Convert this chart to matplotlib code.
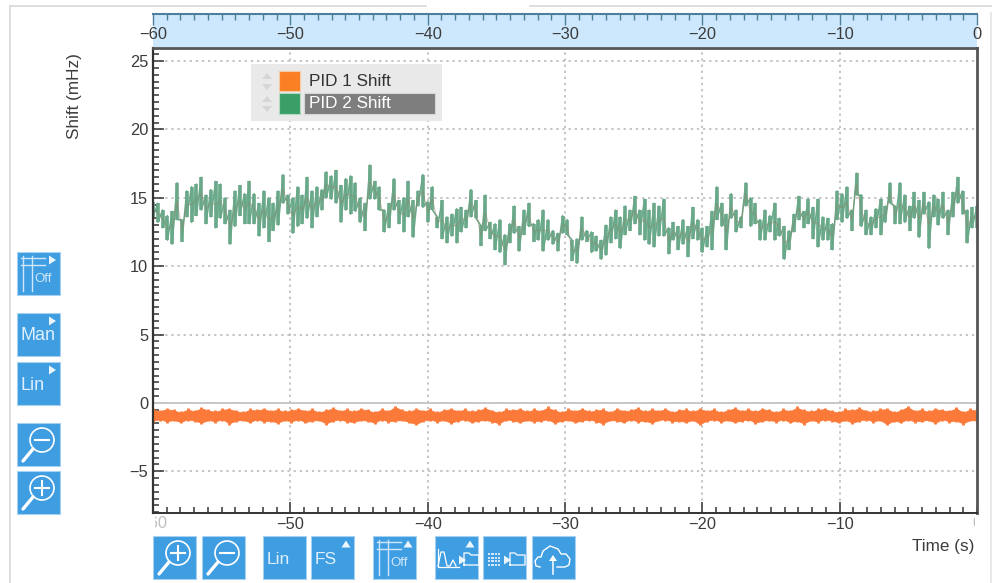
import numpy as np
import matplotlib
matplotlib.use("Agg")
import matplotlib.pyplot as plt
from matplotlib.patches import Rectangle, Circle, Polygon
from matplotlib.ticker import MultipleLocator

plt.rcParams['font.family'] = ['Liberation Sans', 'DejaVu Sans']

# ---------------- DATA ----------------
# upper / lower edge of the green trace
pid2_hi = [14.7,14.6,14.1,13.7,14.0,16.1,13.4,15.5,15.8,16.0,16.5,15.2,15.6,16.2,16.0,15.0,14.1,15.5,15.9,15.3,16.2,15.3,14.6,15.5,15.0,14.6,15.5,16.7,15.2,15.0,15.8,15.2,16.5,15.5,15.8,15.6,16.9,16.6,17.0,15.9,16.4,16.6,16.1,
           15.0,14.6,17.4,16.2,15.8,14.1,14.6,16.4,14.8,15.0,16.2,14.8,15.5,16.7,14.7,15.8,13.6,14.8,13.6,13.8,14.2,14.3,14.1,15.6,14.8,13.0,15.2,13.2,13.1,13.4,12.3,13.1,14.4,12.9,14.1,14.6,13.1,13.4,14.1,13.4,12.6,12.4,13.7,
           13.4,11.9,12.0,13.6,12.6,12.5,12.2,11.9,13.0,13.6,14.1,13.6,14.4,14.1,15.1,14.1,14.9,14.1,14.6,14.4,14.9,12.8,13.2,12.9,13.4,12.9,14.3,13.4,12.8,12.9,14.0,15.8,14.6,13.8,15.3,14.1,13.6,16.1,15.0,14.6,13.4,14.1,13.7,
           14.6,13.5,12.9,12.6,13.8,15.1,14.0,14.9,14.3,14.9,13.6,13.5,13.1,15.5,15.3,15.8,14.1,16.8,15.2,14.1,13.6,14.2,14.9,14.4,16.1,14.4,16.1,15.2,14.4,15.4,14.8,15.4,14.7,15.2,14.9,15.4,14.1,15.4,16.5,15.5,14.1,14.3,14.4]
pid2_lo = [13.6,13.2,12.8,11.9,11.6,13.4,11.8,13.6,13.2,13.7,14.1,13.1,13.6,12.8,13.5,13.1,11.6,12.9,13.7,13.1,13.1,13.1,12.2,12.8,11.8,12.6,13.0,14.6,13.8,12.4,12.9,13.1,13.5,12.8,13.6,14.1,15.0,14.9,14.6,13.2,14.1,13.8,14.0,
           13.2,12.6,14.9,14.9,14.1,12.5,12.8,14.1,13.1,12.5,13.6,12.1,14.4,14.3,13.2,14.1,12.8,12.0,11.7,12.2,11.7,12.5,12.8,13.6,13.5,11.5,12.6,12.0,11.2,11.0,10.1,11.7,12.4,11.1,12.3,12.9,11.8,11.9,11.1,11.9,11.6,11.1,12.4,
           12.3,10.4,10.2,11.9,11.8,11.0,11.1,10.5,10.8,11.7,12.0,11.3,12.3,12.6,13.1,12.3,11.9,11.6,11.4,12.2,12.2,10.9,11.9,11.2,11.6,10.7,12.0,11.9,11.0,11.4,11.2,13.4,12.9,11.2,13.5,12.5,12.8,14.4,12.9,13.1,11.9,11.9,12.5,
           11.9,12.2,10.5,11.2,12.5,13.4,12.8,13.1,12.0,11.4,11.9,11.9,11.2,13.4,13.2,13.5,12.6,15.2,12.9,12.3,12.3,12.8,12.3,13.2,14.6,13.1,13.1,13.2,12.6,13.5,12.1,13.8,11.3,13.6,13.0,13.5,12.3,13.6,14.6,13.8,11.7,12.8,12.8]

# same thing for the orange band
pid1_hi = [-0.4,-0.5,-0.35,-0.45,-0.6,-0.4,-0.5,-0.3,-0.45,-0.55,-0.4,-0.35,-0.5,-0.6,-0.4,-0.45,-0.35,-0.5,-0.4,-0.55,
           -0.45,-0.35,-0.5,-0.4,-0.6,-0.45,-0.3,-0.5,-0.4,-0.55,-0.35,-0.45,-0.6,-0.4,-0.5,-0.2,-0.45,-0.55,-0.35,-0.5,
           -0.4,-0.6,-0.45,-0.35,-0.5,-0.4,-0.55,-0.45,-0.3,-0.5,-0.6,-0.4,-0.45,-0.35,-0.55,-0.4,-0.5,-0.25,-0.45,-0.6,
           -0.4,-0.5,-0.35,-0.55,-0.45,-0.4,-0.6,-0.35,-0.5,-0.45,-0.3,-0.55,-0.4,-0.5,-0.35,-0.6,-0.45,-0.4,-0.55,-0.35,
           -0.5,-0.4,-0.6,-0.45,-0.3,-0.5,-0.4,-0.55,-0.35,-0.45,-0.6,-0.4,-0.5,-0.25,-0.45,-0.55,-0.4,-0.35,-0.5,-0.6,
           -0.4,-0.45,-0.3,-0.5,-0.55,-0.4,-0.35,-0.6,-0.45,-0.2,-0.5,-0.4,-0.55,-0.35,-0.45,-0.5,-0.3,-0.6,-0.4,-0.45]
pid1_lo = [-1.4,-1.3,-1.45,-1.35,-1.5,-1.3,-1.4,-1.55,-1.35,-1.45,-1.3,-1.6,-1.4,-1.35,-1.5,-1.3,-1.45,-1.4,-1.55,-1.35,
           -1.45,-1.3,-1.5,-1.4,-1.35,-1.6,-1.4,-1.3,-1.45,-1.5,-1.35,-1.4,-1.55,-1.3,-1.45,-1.4,-1.35,-1.5,-1.65,-1.4,
           -1.3,-1.45,-1.35,-1.55,-1.4,-1.3,-1.5,-1.4,-1.35,-1.45,-1.6,-1.3,-1.4,-1.5,-1.35,-1.45,-1.4,-1.3,-1.55,-1.4,
           -1.35,-1.5,-1.4,-1.3,-1.45,-1.6,-1.35,-1.4,-1.5,-1.3,-1.45,-1.4,-1.55,-1.35,-1.3,-1.45,-1.4,-1.5,-1.35,-1.65,
           -1.4,-1.3,-1.45,-1.35,-1.5,-1.4,-1.3,-1.55,-1.4,-1.35,-1.45,-1.3,-1.5,-1.4,-1.6,-1.35,-1.45,-1.3,-1.4,-1.5,
           -1.35,-1.55,-1.4,-1.3,-1.45,-1.35,-1.65,-1.4,-1.5,-1.3,-1.45,-1.4,-1.35,-1.55,-1.3,-1.45,-1.4,-1.6,-1.35,-1.4]

x_ticks = [-60, -50, -40, -30, -20, -10, 0]
y_ticks = [-5, 0, 5, 10, 15, 20, 25]
legend_names = ["PID 1 Shift", "PID 2 Shift"]

ORANGE = '#fb8024'
GREEN = '#3a9e66'
BTN = '#3f9de2'
TXT = '#3c3c3c'
W, H = 992, 583
FS = 11.8


def minus(v):
    return str(v).replace('-', '\u2212')


def px_axes(x0, y0, x1, y1):
    return [x0/W, 1-y1/H, (x1-x0)/W, (y1-y0)/H]


fig = plt.figure(figsize=(W/100, H/100), dpi=100)

# ---------------- main plot ----------------
ax = fig.add_axes(px_axes(153, 48, 977, 513))
ax.set_xlim(-60, 0)
ax.set_ylim(-8.05, 25.95)
ax.set_xticks(x_ticks[1:-1])
ax.set_xticklabels([minus(v) for v in x_ticks[1:-1]])
ax.set_yticks(y_ticks)
ax.set_yticklabels([minus(v) for v in y_ticks])
ax.xaxis.set_minor_locator(MultipleLocator(1))
ax.yaxis.set_minor_locator(MultipleLocator(0.5))
ax.tick_params(which='major', direction='in', length=8, width=1.1, color='#333333',
               labelsize=FS, labelcolor=TXT)
ax.tick_params(axis='y', which='major', pad=3.5)
ax.tick_params(axis='x', which='major', pad=3)
ax.tick_params(which='minor', direction='in', length=4, width=1.1, color='#333333')
ax.grid(True, which='major', color='#b4b4b4', ls=(0, (1.5, 2.5)), lw=1.1)
ax.axhline(0, color='#c8c8c8', lw=1.4, zorder=1.5)
ax.set_axisbelow(True)
for side, col, lw in [('left', '#333333', 1.6), ('bottom', '#333333', 1.4),
                      ('right', '#555555', 2), ('top', '#555555', 2)]:
    ax.spines[side].set_color(col)
    ax.spines[side].set_linewidth(lw)

# orange band, solid core and one spike per reading
to = np.linspace(-60, 0, len(pid1_hi))
ax.fill_between(to, np.array(pid1_hi)-0.1, np.array(pid1_lo)+0.1, color='#fb7a3a', lw=0.5)
ax.vlines(to, pid1_lo, pid1_hi, color='#fb7a3a', lw=2)

# green trace, column per reading with the zigzag joining them
tg = np.linspace(-60, 0, len(pid2_hi))
ax.vlines(tg, pid2_lo, pid2_hi, color='#69a98a', lw=2.6)
zx = np.column_stack((tg, tg)).ravel()
zy = np.column_stack((pid2_hi, pid2_lo)).ravel()
ax.plot(zx, zy, color='#69a98a', lw=1.1)
ax.plot(tg, (np.array(pid2_hi)+np.array(pid2_lo))/2, color='#8f8468', lw=0.7, alpha=0.55)

# ---------------- top strip ----------------
strip = fig.add_axes(px_axes(153, 14, 977, 47))
strip.set_facecolor('#cde8fc')
strip.set_xlim(-60, 0)
strip.set_yticks([])
strip.set_xticks(x_ticks)
strip.xaxis.set_minor_locator(MultipleLocator(1))
strip.tick_params(axis='x', which='major', direction='in', top=True, bottom=False,
                  labelbottom=False, length=8, width=1, color='#4d7f9c')
strip.tick_params(axis='x', which='minor', direction='in', top=True, bottom=False,
                  length=4, width=1, color='#4d7f9c')
for side in ['left', 'right', 'bottom']:
    strip.spines[side].set_visible(False)
strip.spines['top'].set_color('#4d7f9c')
strip.spines['top'].set_linewidth(1.5)
for v in x_ticks:
    strip.text(v, 0.38, minus(v), transform=strip.get_xaxis_transform(), ha='center',
               va='center', fontsize=FS, color=TXT, clip_on=False)

# ---------------- page overlay in pixels ----------------
ov = fig.add_axes([0, 0, 1, 1], zorder=5)
ov.set_xlim(0, W)
ov.set_ylim(H, 0)
ov.axis('off')
ov.patch.set_alpha(0)

# widget border
ov.plot([10, 10], [6, H], color='#d8d8d8', lw=1.2)
ov.plot([10, 426], [6, 6], color='#d8d8d8', lw=1.2)
ov.plot([530, 992], [6, 6], color='#d8d8d8', lw=1.2)
ov.plot([991, 991], [13, H], color='#e4e4e4', lw=1.2)

ov.text(75, 96, "Shift (mHz)", rotation=90, ha='center', va='center', fontsize=FS+0.5, color=TXT)
ov.text(974, 547, "Time (s)", ha='right', va='center', fontsize=FS+0.5, color=TXT)

# half hidden labels at both ends of the lower axis
clip = Rectangle((155, 510), 820, 50, transform=ov.transData)
for xpos, s in [(153, minus(x_ticks[0])), (977, minus(x_ticks[-1]))]:
    t = ov.text(xpos, 523, s, ha='center', va='center', fontsize=FS, color='#c0c0c0')
    t.set_clip_on(True)
    t.set_clip_path(clip)

# legend
ov.add_patch(Rectangle((251, 64), 191, 57, fc='#e9e9e9', ec='none'))
ov.add_patch(Rectangle((279, 71), 21, 20, fc=ORANGE, ec='#f4c9a5', lw=0.8))
ov.add_patch(Rectangle((279, 93), 21, 21, fc=GREEN, ec='#b5d8c3', lw=0.8))
ov.add_patch(Rectangle((304, 93), 131, 21, fc='#7e7e7e', ec='#d5d5d5', lw=0.8))
ov.text(309, 81, legend_names[0], va='center', fontsize=FS+0.5, color='#333333')
ov.text(309, 103, legend_names[1], va='center', fontsize=FS+0.5, color='white')
for yc in [76, 87, 99, 109]:
    d = -1 if yc in (76, 99) else 1
    ov.add_patch(Polygon([(262, yc-d*3), (272, yc-d*3), (267, yc+d*3)], fc='#d6d6d6', ec='none'))


def button(x0, y0, w=43, h=43):
    ov.add_patch(Rectangle((x0, y0), w, h, fc=BTN, ec='#a5d2f2', lw=0.8))


def tri(x, y, up=False):
    if up:
        pts = [(x-4.5, y+3.5), (x+4.5, y+3.5), (x, y-3.5)]
    else:
        pts = [(x-3, y-4.5), (x-3, y+4.5), (x+4, y)]
    ov.add_patch(Polygon(pts, fc='white', ec='none', alpha=0.9))


def lens(x0, y0, plus):
    ov.add_patch(Circle((x0+25, y0+17), 12, fc='none', ec='white', lw=1.2))
    ov.plot([x0+6, x0+16], [y0+38, y0+26], color='white', lw=2.4, solid_capstyle='round')
    ov.plot([x0+18, x0+32], [y0+17, y0+17], color='white', lw=1.5)
    if plus:
        ov.plot([x0+25, x0+25], [y0+10, y0+24], color='white', lw=1.5)


def grid_icon(x0, y0, up):
    c = '#cfe7f9'
    ov.plot([x0+6, x0+6], [y0+4, y0+39], color=c, lw=1)
    ov.plot([x0+15, x0+15], [y0+4, y0+39], color=c, lw=1)
    ov.plot([x0+4, x0+28], [y0+6, y0+6], color=c, lw=1)
    ov.plot([x0+4, x0+28], [y0+13, y0+13], color=c, lw=1)
    ov.text(x0+17, y0+27, "Off", va='center', fontsize=9.5, color=c)
    tri(x0+35, y0+8, up)


def folder(x, y):
    ov.plot([x, x, x+5, x+7, x+15, x+15, x], [y+12, y, y, y+2, y+2, y+12, y+12], color='white', lw=0.9)


def label_btn(x0, y0, s, size, up=False, trix=None, dx=3):
    button(x0, y0)
    ov.text(x0+dx, y0+23, s, va='center', fontsize=size, color='#dff0fc')
    if trix is not None:
        tri(x0+trix, y0+8, up)


# left column
button(17, 252)
grid_icon(17, 252, False)
label_btn(17, 313, "Man", 13, trix=35)
label_btn(17, 362, "Lin", 13, trix=35)
button(17, 423)
lens(17, 423, False)
button(17, 471)
lens(17, 471, True)

# bottom row
button(153, 536)
lens(153, 536, True)
button(202, 536)
lens(202, 536, False)
label_btn(263, 536, "Lin", 12.5, dx=4)
label_btn(311, 536, "FS", 12.5, up=True, trix=35, dx=4)
button(373, 536)
grid_icon(373, 536, True)

button(435, 536)
ov.plot([438, 441, 444, 447, 450, 453, 456], [566, 552, 552, 566, 566, 560, 566], color='white', lw=0.9)
ov.plot([438, 438, 459], [549, 567, 567], color='white', lw=0.9)
tri(462, 560)
folder(464, 553)
tri(470, 544, True)

button(483, 536)
for i in range(4):
    for j in range(4):
        ov.add_patch(Rectangle((488+j*3.4, 553+i*3.6), 2.2, 2.2, fc='#cfe7f9', ec='none'))
tri(507, 560)
folder(510, 553)

button(532, 536)
cloud = [(540, 567), (536, 566), (535, 561), (538, 557), (541, 557), (543, 551), (550, 546), (558, 549),
         (561, 554), (566, 554), (570, 559), (569, 565), (565, 567), (557, 567)]
ov.plot(*zip(*cloud), color='white', lw=1)
ov.plot([553, 553], [557, 574], color='white', lw=1.1)
ov.add_patch(Polygon([(549, 561), (557, 561), (553, 555)], fc='white', ec='none'))

fig.savefig("out.png", dpi=100)
